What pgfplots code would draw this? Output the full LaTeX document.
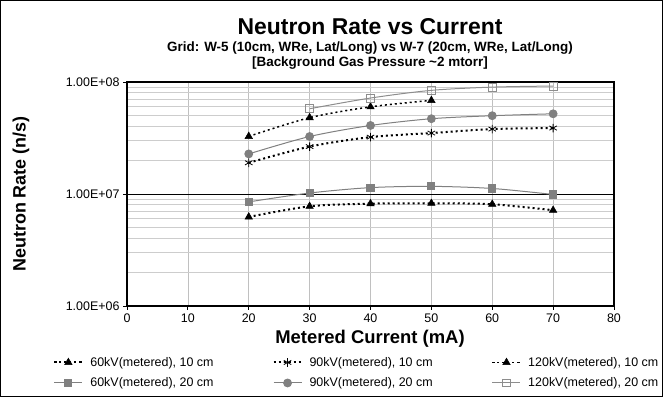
\documentclass[border=0pt]{standalone}
\usepackage{fontspec}
\setmainfont{Liberation Sans}
\usepackage{pgfplots}
\pgfplotsset{compat=1.18}
\definecolor{sergray}{HTML}{808080}
\definecolor{gridgray}{HTML}{C0C0C0}
\begin{document}
\begin{tikzpicture}
\path[use as bounding box] (0bp,0bp) rectangle (663bp,397bp);
\draw[line width=1bp] (0.5bp,0.5bp) rectangle (662.5bp,396.5bp);
\begin{axis}[
  at={(127bp,91bp)}, anchor=south west,
  scale only axis, width=487bp, height=224bp,
  xmin=0, xmax=80, xtick={0,10,...,80},
  ymode=log, ymin=1e6, ymax=1e8,
  ytick={1e6,1e7,1e8},
  minor ytick={2e6,3e6,4e6,5e6,6e6,7e6,8e6,9e6,2e7,3e7,4e7,5e7,6e7,7e7,8e7,9e7},
  yticklabels={1.00E+06,1.00E+07,1.00E+08},
  log basis y=10,
  /pgf/number format/assume math mode=true,
  tick label style={font=\fontsize{12.5}{14}\selectfont},
  tick align=outside, major tick length=4bp, minor tick length=0bp,
  xtick pos=bottom, ytick pos=left,
  xmajorgrids=true, ymajorgrids=true, yminorgrids=true,
  major grid style={gridgray, line width=0.7bp},
  minor grid style={gridgray!80, line width=0.7bp},
  axis line style={black, line width=1.2bp},
  tick style={black, line width=0.8bp},
  clip=false,
  legend columns=3,
  legend cell align=left,
  legend style={at={(0.472,-0.21)}, anchor=north, draw=none, fill=none,
    font=\fontsize{12.5}{14}\selectfont,
    /tikz/every odd column/.append style={column sep=5bp},
    /tikz/every even column/.append style={column sep=57bp},
    row sep=6bp},
  legend image code/.code={%
    \draw[mark repeat=2,mark phase=2,#1] plot coordinates {(0bp,0bp) (14bp,0bp) (28bp,0bp)};},
]
% 1e7 black gridline
\addplot[black, line width=0.9bp, forget plot] coordinates {(0,1e7) (80,1e7)};
% 60kV 10cm
\addplot[black, line width=2bp, dash pattern=on 2bp off 3bp, smooth,
  mark=triangle*, mark size=4.3bp, mark options={solid, fill=black, line width=0.5bp}]
  coordinates {(20,6.24e6) (30,7.76e6) (40,8.2e6) (50,8.25e6) (60,8.1e6) (70,7.16e6)};
\addlegendentry{60kV(metered), 10 cm}
% 90kV 10cm
\addplot[black, line width=2bp, dash pattern=on 2bp off 3bp, smooth,
  mark=asterisk, mark size=4.3bp, mark options={solid, line width=0.8bp}]
  coordinates {(20,1.9e7) (30,2.65e7) (40,3.22e7) (50,3.5e7) (60,3.8e7) (70,3.88e7)};
\addlegendentry{90kV(metered), 10 cm}
% 120kV 10cm
\addplot[black, line width=1.5bp, dash pattern=on 2bp off 3bp, smooth,
  mark=triangle*, mark size=4.3bp, mark options={solid, fill=black, line width=0.5bp}]
  coordinates {(20,3.27e7) (30,4.8e7) (40,6.0e7) (50,6.85e7)};
\addlegendentry{120kV(metered), 10 cm}
% 60kV 20cm
\addplot[sergray, line width=1bp, smooth,
  mark=square*, mark size=3.6bp, mark options={solid, fill=sergray}]
  coordinates {(20,8.5e6) (30,1.02e7) (40,1.14e7) (50,1.17e7) (60,1.12e7) (70,9.9e6)};
\addlegendentry{60kV(metered), 20 cm}
% 90kV 20cm
\addplot[sergray, line width=1bp, smooth,
  mark=*, mark size=3.9bp, mark options={solid, fill=sergray}]
  coordinates {(20,2.28e7) (30,3.26e7) (40,4.09e7) (50,4.7e7) (60,5.0e7) (70,5.2e7)};
\addlegendentry{90kV(metered), 20 cm}
% 120kV 20cm
\addplot[sergray!90, line width=1bp, smooth,
  mark=square, mark size=3.9bp, mark options={solid, fill=white, line width=0.8bp}]
  coordinates {(30,5.77e7) (40,7.19e7) (50,8.42e7) (60,9.0e7) (70,9.2e7)};
\addlegendentry{120kV(metered), 20 cm}
\end{axis}
\node[font=\bfseries\fontsize{23}{26}\selectfont] at (370bp,370bp) {Neutron Rate vs Current};
\node[font=\bfseries\fontsize{13.5}{15}\selectfont] at (370bp,349bp) {Grid: W-5 (10cm, WRe, Lat/Long) vs W-7 (20cm, WRe, Lat/Long)};
\node[font=\bfseries\fontsize{13.5}{15}\selectfont] at (370bp,334bp) {[Background Gas Pressure \textasciitilde 2 mtorr]};
\node[font=\bfseries\fontsize{18.5}{21}\selectfont] at (370bp,58bp) {Metered Current (mA)};
\node[font=\bfseries\fontsize{18}{21}\selectfont, rotate=90] at (21bp,203bp) {Neutron Rate (n/s)};
\end{tikzpicture}
\end{document}
